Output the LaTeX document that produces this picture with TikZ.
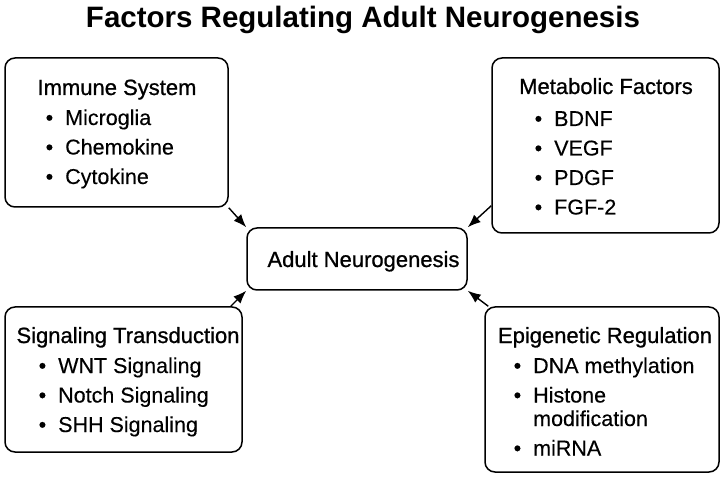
\documentclass[tikz,border=0pt]{standalone}
\usepackage{fontspec}
\setmainfont{Liberation Sans}
\newfontfamily\headfont[FakeBold=0.9]{Liberation Sans}
\newfontfamily\itemfont[FakeBold=0.3]{Liberation Sans}
\usetikzlibrary{arrows.meta}

\begin{document}
\begin{tikzpicture}[x=1pt,y=-1pt,>={Latex[length=13pt,width=10pt]},
  factor/.style={draw,line width=1.5pt,rounded corners=10pt,inner sep=0pt},
  heading/.style={anchor=base,font=\headfont\fontsize{22}{29.5}\selectfont},
  items/.style={anchor=base west,inner sep=0pt,font=\itemfont\fontsize{21.5}{29.5}\selectfont},
  link/.style={->,line width=1.4pt}]
\useasboundingbox (0,0) rectangle (726,481);

\node[anchor=base] (title) at (363,28) {\fontsize{29.5}{34}\selectfont\bfseries Factors Regulating Adult Neurogenesis};

% centre
\node[factor,minimum width=220pt,minimum height=62pt] (adult) at (357,259) {};
\node[heading] (adulttext) at (363.5,267) {Adult Neurogenesis};

% immune system
\node[factor,minimum width=223pt,minimum height=149pt] (immune) at (116.5,132.5) {};
\node[heading] (immunehead) at (117,95) {Immune System};
\node[items] (immunelist) at (65,125) {\begin{tabular}[t]{@{}l@{}}
  \llap{\textbullet\hspace{12pt}}Microglia\\
  \llap{\textbullet\hspace{12pt}}Chemokine\\
  \llap{\textbullet\hspace{12pt}}Cytokine
\end{tabular}};

% metabolic factors
\node[factor,minimum width=227pt,minimum height=175pt] (meta) at (605.5,145.5) {};
\node[heading] (metahead) at (606,94) {Metabolic Factors};
\node[items] (metalist) at (554,126) {\begin{tabular}[t]{@{}l@{}}
  \llap{\textbullet\hspace{12pt}}BDNF\\
  \llap{\textbullet\hspace{12pt}}VEGF\\
  \llap{\textbullet\hspace{12pt}}PDGF\\
  \llap{\textbullet\hspace{12pt}}FGF-2
\end{tabular}};

% signaling transduction
\node[factor,minimum width=237pt,minimum height=145pt] (sig) at (123.5,379.5) {};
\node[heading] (sighead) at (128,343) {Signaling Transduction};
\node[items] (siglist) at (58,373) {\begin{tabular}[t]{@{}l@{}}
  \llap{\textbullet\hspace{12pt}}WNT Signaling\\
  \llap{\textbullet\hspace{12pt}}Notch Signaling\\
  \llap{\textbullet\hspace{12pt}}SHH Signaling
\end{tabular}};

% epigenetic regulation
\node[factor,minimum width=234pt,minimum height=165pt] (epi) at (602,389.5) {};
\node[heading] (epihead) at (605,343) {Epigenetic Regulation};
\node[items] (epilist) at (533,373) {\begin{tabular}[t]{@{}l@{}}
  \llap{\textbullet\hspace{12pt}}DNA methylation\\
  \llap{\textbullet\hspace{12pt}}Histone\\[-6pt]
  modification\\
  \llap{\textbullet\hspace{12pt}}miRNA
\end{tabular}};

\coordinate (metaout) at ([yshift=28pt]meta.south west);
\coordinate (sigout) at ([xshift=-12pt]sig.north east);
\coordinate (epiout) at ([xshift=4pt]epi.north west);

\draw[link] (immune.south east) -- (adult.north west);
\draw[link] (metaout) -- (adult.north east);
\draw[link] (sigout) -- (adult.south west);
\draw[link] (epiout) -- (adult.south east);
\end{tikzpicture}
\end{document}
